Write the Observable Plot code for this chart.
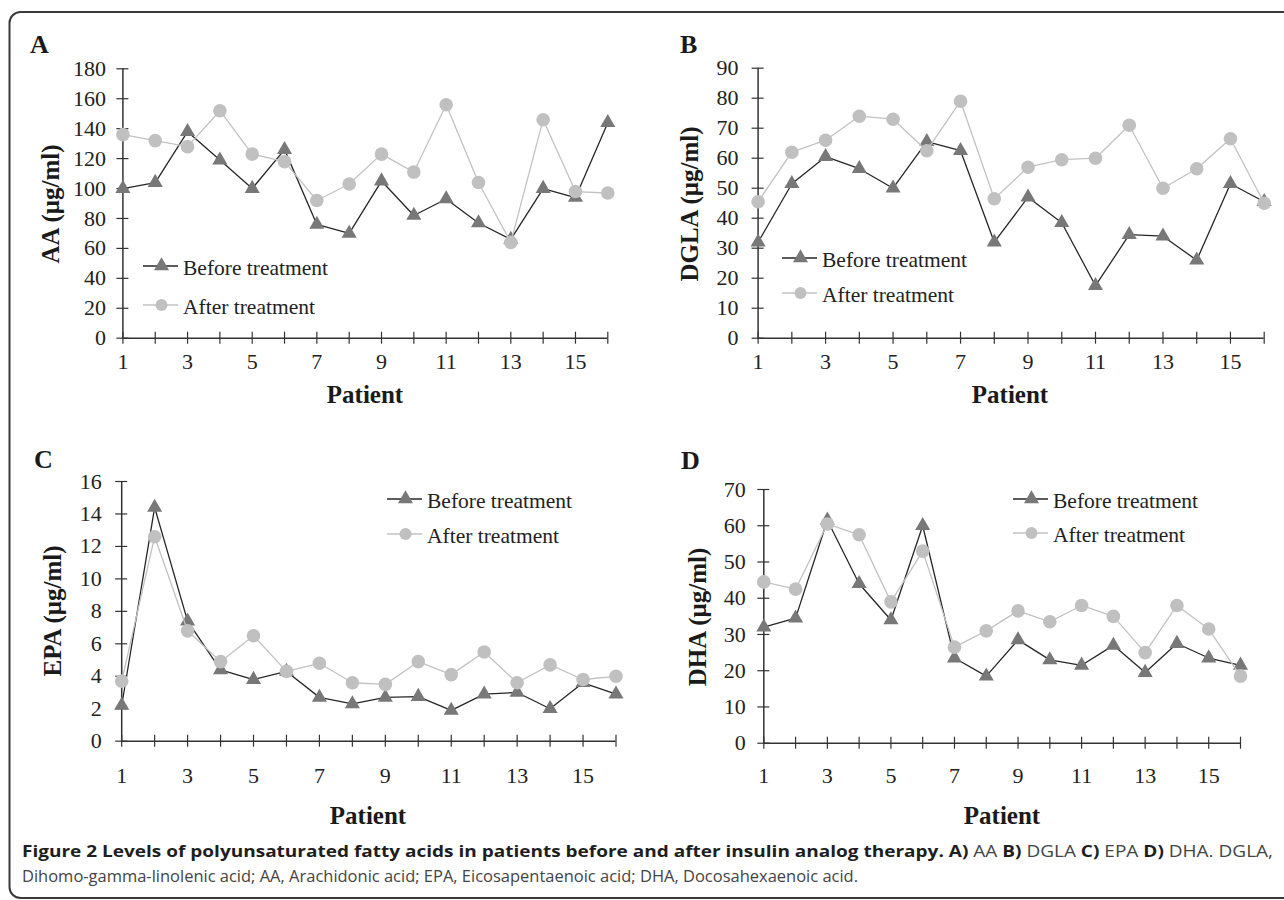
<!DOCTYPE html>
<html>
<head>
<meta charset="utf-8">
<script src="https://cdn.jsdelivr.net/npm/d3@7"></script>
<script src="https://cdn.jsdelivr.net/npm/@observablehq/plot@0.6"></script>
<style>
  html, body { margin: 0; padding: 0; background: #fff; }
  #page { position: relative; width: 1284px; height: 900px; overflow: hidden; background: #fff; }
  .panel { position: absolute; }
  #overlay { position: absolute; left: 0; top: 0; pointer-events: none; }
</style>
</head>
<body>
<div id="page">
  <div id="pA" class="panel" style="left:0px;top:0px"></div>
  <div id="pB" class="panel" style="left:640px;top:0px"></div>
  <div id="pC" class="panel" style="left:0px;top:420px"></div>
  <div id="pD" class="panel" style="left:640px;top:420px"></div>
</div>
<script>
// ---------- data ----------
const patients = [1,2,3,4,5,6,7,8,9,10,11,12,13,14,15,16];
const seriesNames = ["Before treatment", "After treatment"];

const aaBefore   = [100,104,138,119,100,126,76,70,105,82,93,77,66,100,94,144];
const aaAfter    = [136,132,128,152,123,118,92,103,123,111,156,104,64,146,98,97];
const dglaBefore = [32,51.5,60.5,56.5,50,65.5,62.5,32,47,38.5,17.5,34.5,34,26,51.5,45.5];
const dglaAfter  = [45.5,62,66,74,73,62.5,79,46.5,57,59.5,60,71,50,56.5,66.5,45];
const epaBefore  = [2.2,14.4,7.4,4.4,3.8,4.3,2.7,2.3,2.7,2.75,1.9,2.9,3.0,2.0,3.6,2.9];
const epaAfter   = [3.7,12.6,6.8,4.9,6.5,4.3,4.8,3.6,3.5,4.9,4.1,5.5,3.6,4.7,3.8,4.0];
const dhaBefore  = [32,34.5,61.5,44,34,60,23.5,18.5,28.5,23,21.5,27,19.5,27.5,23.5,21.5];
const dhaAfter   = [44.5,42.5,60.5,57.5,39,53,26.5,31,36.5,33.5,38,35,25,38,31.5,18.5];

const aaTicks   = [0,20,40,60,80,100,120,140,160,180];
const dglaTicks = [0,10,20,30,40,50,60,70,80,90];
const epaTicks  = [0,2,4,6,8,10,12,14,16];
const dhaTicks  = [0,10,20,30,40,50,60,70];

const panelLetters = ["A","B","C","D"];
const yTitles = ["AA (μg/ml)", "DGLA (μg/ml)", "EPA (μg/ml)", "DHA (μg/ml)"];
const xTitle = "Patient";

// ---------- style ----------
const BEFORE_LINE = "#262626", BEFORE_DOT = "#787878";
const AFTER_LINE = "#c2c2c2", AFTER_DOT = "#c0c0c0";
const AXIS = "#333";
const TRI_R = 5.6, CIR_R = 6.8;
const SERIF = "'Liberation Serif', 'Times New Roman', serif";

function panel(el, before, after, ticks, cfg) {
  const rows = (vals) => patients.map((p, i) => ({patient: p, value: vals[i]}));
  const b = rows(before), a = rows(after);
  const chart = Plot.plot({
    width: cfg.width, height: 420,
    marginLeft: cfg.ml, marginRight: cfg.mr, marginTop: cfg.mt, marginBottom: cfg.mb,
    x: {domain: [1, 16], label: null},
    y: {domain: [ticks[0], ticks[ticks.length - 1]], label: null},
    style: {fontFamily: SERIF, fontSize: "22px", color: "#222", background: "transparent", overflow: "visible"},
    marks: [
      Plot.axisY({ticks, tickSize: 12, dx: 6, fill: "none", stroke: AXIS, strokeWidth: 1.2, label: null}),
      Plot.axisY({ticks, tickSize: 0, tickPadding: cfg.yPad, label: null, fill: "#222"}),
      Plot.axisX({ticks: patients, tickSize: 12, dy: -6, fill: "none", stroke: AXIS, strokeWidth: 1.2, label: null}),
      Plot.axisX({ticks: patients, tickSize: 0, tickPadding: cfg.xPad, label: null, fill: "#222",
                  tickFormat: d => (d % 2 ? String(d) : "")}),
      Plot.ruleX([1], {stroke: AXIS, strokeWidth: 1.5}),
      Plot.ruleY([ticks[0]], {stroke: AXIS, strokeWidth: 1.5}),
      Plot.line(b, {x: "patient", y: "value", stroke: BEFORE_LINE, strokeWidth: 1.3}),
      Plot.dot(b, {x: "patient", y: "value", symbol: "triangle", r: TRI_R, fill: BEFORE_DOT, stroke: "none"}),
      Plot.line(a, {x: "patient", y: "value", stroke: AFTER_LINE, strokeWidth: 1.3}),
      Plot.dot(a, {x: "patient", y: "value", symbol: "circle", r: CIR_R, fill: AFTER_DOT, stroke: "none"})
    ]
  });
  document.getElementById(el).appendChild(chart);
}

panel("pA", aaBefore, aaAfter, aaTicks,     {width: 640, ml: 122.4, mr: 32.7, mt: 68.3, mb: 82.3, yPad: 17, xPad: 15.5});
panel("pB", dglaBefore, dglaAfter, dglaTicks, {width: 644, ml: 117.6, mr: 20.3, mt: 67.7, mb: 82.3, yPad: 19.5, xPad: 15});
panel("pC", epaBefore, epaAfter, epaTicks,  {width: 640, ml: 121.2, mr: 24.5, mt: 61, mb: 99.3, yPad: 20, xPad: 26.5});
panel("pD", dhaBefore, dhaAfter, dhaTicks,  {width: 644, ml: 123.3, mr: 44, mt: 69, mb: 97.3, yPad: 18, xPad: 24.5});

// ---------- overlay: frame, letters, titles, legends, caption ----------
const svg = d3.select("#page").append("svg").attr("id", "overlay")
  .attr("width", 1284).attr("height", 900);

svg.append("rect").attr("x", 9.5).attr("y", 12).attr("width", 1300).attr("height", 886)
  .attr("rx", 11).attr("fill", "none").attr("stroke", "#3a3a3a").attr("stroke-width", 2);

const letterPos = [[30, 53], [680, 53], [34, 468], [681, 469]];
const ytPos = [[51, 204], [690, 204], [53, 611], [698, 617]];
const xtPos = [[365, 403], [1010, 403], [368, 824], [1002, 824]];
const legPos = [[143, 266, 305], [782, 258, 293], [387, 499, 534], [1013, 499, 533]];

panelLetters.forEach((L, i) => {
  svg.append("text").attr("x", letterPos[i][0]).attr("y", letterPos[i][1])
    .attr("font-family", SERIF).attr("font-weight", "bold").attr("font-size", 26).attr("fill", "#1a1a1a").text(L);
  svg.append("text").attr("transform", `translate(${ytPos[i][0]},${ytPos[i][1]}) rotate(-90)`)
    .attr("text-anchor", "middle").attr("dy", "0.33em")
    .attr("font-family", SERIF).attr("font-weight", "bold").attr("font-size", 25).attr("fill", "#1a1a1a").text(yTitles[i]);
  svg.append("text").attr("x", xtPos[i][0]).attr("y", xtPos[i][1]).attr("text-anchor", "middle")
    .attr("font-family", SERIF).attr("font-weight", "bold").attr("font-size", 25).attr("fill", "#1a1a1a").text(xTitle);

  const [lx, y1, y2] = legPos[i];
  const g = svg.append("g");
  g.append("line").attr("x1", lx).attr("x2", lx + 35).attr("y1", y1).attr("y2", y1).attr("stroke", BEFORE_LINE).attr("stroke-width", 1.3);
  g.append("path").attr("transform", `translate(${lx + 18.5},${y1})`)
    .attr("d", d3.symbol(d3.symbolTriangle, Math.PI * TRI_R * TRI_R)()).attr("fill", BEFORE_DOT);
  g.append("text").attr("x", lx + 40).attr("y", y1 + 8.5).attr("font-family", SERIF).attr("font-size", 21.5)
    .attr("fill", "#222").text(seriesNames[0]);
  g.append("line").attr("x1", lx).attr("x2", lx + 35).attr("y1", y2).attr("y2", y2).attr("stroke", AFTER_LINE).attr("stroke-width", 1.3);
  g.append("circle").attr("cx", lx + 18.5).attr("cy", y2).attr("r", CIR_R - 0.8).attr("fill", AFTER_DOT);
  g.append("text").attr("x", lx + 40).attr("y", y2 + 8.5).attr("font-family", SERIF).attr("font-size", 21.5)
    .attr("fill", "#222").text(seriesNames[1]);
});

// caption
const SANS = "'Open Sans', 'Noto Sans', sans-serif";
const c1 = svg.append("text").attr("x", 22).attr("y", 857).attr("font-family", SANS).attr("font-size", 16.5)
  .attr("textLength", 1251).attr("lengthAdjust", "spacingAndGlyphs").attr("fill", "#444");
const parts1 = [
  ["Figure 2 Levels of polyunsaturated fatty acids in patients before and after insulin analog therapy.", true],
  [" A)", true], [" AA ", false], ["B)", true], [" DGLA ", false], ["C)", true], [" EPA ", false], ["D)", true],
  [" DHA. DGLA,", false]
];
parts1.forEach(([t, bold]) => {
  c1.append("tspan").attr("font-weight", bold ? "bold" : "normal").attr("fill", bold ? "#1e1e1e" : "#444").text(t);
});
svg.append("text").attr("x", 22).attr("y", 882).attr("font-family", SANS).attr("font-size", 16.5)
  .attr("textLength", 836).attr("lengthAdjust", "spacingAndGlyphs").attr("fill", "#444")
  .text("Dihomo-gamma-linolenic acid; AA, Arachidonic acid; EPA, Eicosapentaenoic acid; DHA, Docosahexaenoic acid.");
</script>
</body>
</html>
